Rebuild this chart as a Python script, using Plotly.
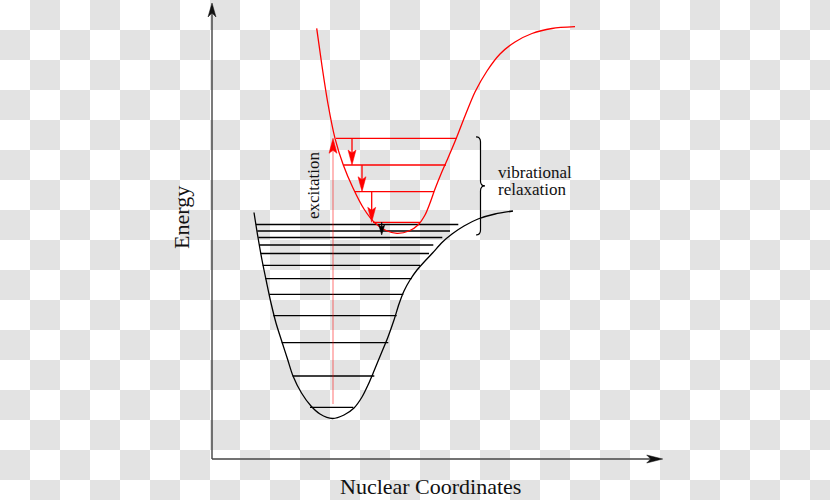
import plotly.graph_objects as go

# ---- data (x: nuclear coordinate, E: energy; origin at the drawn axes) ----
# ground-state curve (pixel offsets from the axis origin)
ground_x = [42, 46, 50, 54.5, 59, 64, 70, 75.5, 81, 89.5, 99, 108, 120.5,
            132, 142, 150, 156, 162, 169, 176, 182, 187, 192, 198, 205, 213, 221, 230, 240, 252, 266, 283, 301]
ground_E = [246.5, 221.5, 199, 177, 156, 136, 117, 100, 83, 66, 53, 45, 40.5,
            44, 51, 62, 74, 88, 105, 122, 139, 155, 168, 179, 189, 198, 206.5, 216.5, 225, 233, 240, 245, 248]

ground_level_E = [234.5, 228, 221.5, 214, 205.5, 193.7, 180.3, 164.7, 143.3, 116.3, 83, 51.7]
ground_level_left = [44, 45.3, 46.3, 47.3, 48.7, 50.7, 53, 57.3, 61.3, 69.7, 80.7, 98]
ground_level_right = [246.3, 238, 230.3, 221.3, 217, 208, 199.7, 191.3, 184.7, 176.3, 162.3, 141.3]

# excited-state curve
excited_x = [104.7, 110, 116, 123, 131.3, 141, 152, 163, 174, 185, 197, 206, 213, 218, 223,
             229, 236, 244, 253, 263, 275, 288, 303, 320, 340, 363]
excited_E = [430.7, 393, 355, 320.7, 294, 271, 250, 236, 228.5, 225.7, 228, 234, 244, 256, 270,
             285, 301, 320, 343, 367, 388, 405, 417, 425.5, 430.5, 432.3]

excited_level_E = [320.7, 294, 267.3, 236.7]
excited_level_left = [124, 131.3, 143, 161]
excited_level_right = [244.7, 234, 222, 208]

relax_arrow_x = [140, 150, 159.7]          # red arrows between successive excited levels
final_arrow_x = 169.7                       # small black arrow to the minimum
final_arrow_E = [236.7, 224]
excitation_x = 121
excitation_E = [55, 320.7]

axis_x_end = 450.7
axis_E_end = 456

RED = "#ff0000"
FONT = "Liberation Serif, Times New Roman, serif"

fig = go.Figure()


def head(tip_x, tip_y, dx, dy, L, W, notch, color):
    nx, ny = -dy, dx
    bx, by = tip_x - L * dx, tip_y - L * dy
    mx, my = tip_x - (L - notch) * dx, tip_y - (L - notch) * dy
    xs = [tip_x, bx + W / 2 * nx, mx, bx - W / 2 * nx, tip_x]
    ys = [tip_y, by + W / 2 * ny, my, by - W / 2 * ny, tip_y]
    fig.add_trace(go.Scatter(x=xs, y=ys, mode="lines", fill="toself", fillcolor=color,
                             line=dict(color=color, width=0.5), hoverinfo="skip"))


def line(xs, ys, color, width, shape="linear"):
    fig.add_trace(go.Scatter(x=xs, y=ys, mode="lines",
                             line=dict(color=color, width=width, shape=shape, smoothing=0.8),
                             hoverinfo="skip"))


# axes
line([0, 0], [0, axis_E_end - 8], "#222", 1.2)
head(0, axis_E_end, 0, 1, 14, 8, 4, "#111")
line([0, axis_x_end - 8], [0, 0], "#444", 1.4)
head(axis_x_end, 0, 1, 0, 16, 8, 4, "#111")

# ground state
line(ground_x, ground_E, "black", 1.3, "spline")
for e, l, r in zip(ground_level_E, ground_level_left, ground_level_right):
    line([l, r], [e, e], "black", 1.3)

# excitation arrow
line([excitation_x, excitation_x], [excitation_E[0], excitation_E[1] - 10], "rgba(255,0,0,0.55)", 1)
head(excitation_x, excitation_E[1], 0, 1, 15, 8, 3, RED)

# excited state
line(excited_x, excited_E, RED, 1.3, "spline")
for e, l, r in zip(excited_level_E, excited_level_left, excited_level_right):
    line([l, r], [e, e], RED, 1.3)

for i, ax_ in enumerate(relax_arrow_x):
    top, bot = excited_level_E[i], excited_level_E[i + 1]
    line([ax_, ax_], [top, bot + 10], RED, 1.3)
    head(ax_, bot, 0, -1, 15, 8, 3, RED)

line([final_arrow_x, final_arrow_x], [final_arrow_E[0], final_arrow_E[1] + 6], "black", 1.2)
head(final_arrow_x, final_arrow_E[1], 0, -1, 10, 6, 2, "black")

# brace
bx0, bx1, bt = 264, 268.5, 273
btop, bbot = excited_level_E[0] + 1.5, final_arrow_E[1]
bmid = (btop + bbot) / 2
path = (f"M {bx0},{btop} Q {bx1},{btop} {bx1},{btop-5} L {bx1},{bmid+5} "
        f"Q {bx1},{bmid} {bt},{bmid} Q {bx1},{bmid} {bx1},{bmid-5} L {bx1},{bbot+5} "
        f"Q {bx1},{bbot} {bx0},{bbot}")
fig.add_shape(type="path", path=path, xref="x", yref="y", line=dict(color="black", width=1.2))

# texts
ann = [
    dict(x=285, y=286.5, text="vibrational", xanchor="left", yanchor="middle", font=dict(size=17)),
    dict(x=285, y=269.5, text="relaxation", xanchor="left", yanchor="middle", font=dict(size=17)),
    dict(x=101, y=274, text="excitation", textangle=-90, xanchor="center", yanchor="middle", font=dict(size=17)),
    dict(x=-31, y=241, text="Energy", textangle=-90, xanchor="center", yanchor="middle", font=dict(size=22)),
    dict(x=218.5, y=-27, text="Nuclear Coordinates", xanchor="center", yanchor="middle", font=dict(size=22)),
]
for a in ann:
    a["font"].update(family=FONT, color="#111")
    fig.add_annotation(showarrow=False, xref="x", yref="y", borderpad=0, **a)

# checkerboard background (transparent-image look)
W, H, S = 830, 500, 30
for r in range(H // S + 1):
    for c in range(W // S + 1):
        if (r + c) % 2 == 1:
            fig.add_shape(type="rect", xref="paper", yref="paper", layer="below",
                          x0=c * S / W, x1=(c + 1) * S / W,
                          y0=1 - (r + 1) * S / H, y1=1 - r * S / H,
                          line=dict(width=0), fillcolor="#e3e3e3")

fig.update_layout(
    width=W, height=H, margin=dict(l=0, r=0, t=0, b=0),
    paper_bgcolor="white", plot_bgcolor="rgba(0,0,0,0)", showlegend=False,
    xaxis=dict(range=[-212, 618], visible=False, fixedrange=True),
    yaxis=dict(range=[-41, 459], visible=False, fixedrange=True),
)

fig.write_html("out.html", config={"displayModeBar": False},
               post_script="document.body.style.margin='0';document.body.style.overflow='hidden';")
